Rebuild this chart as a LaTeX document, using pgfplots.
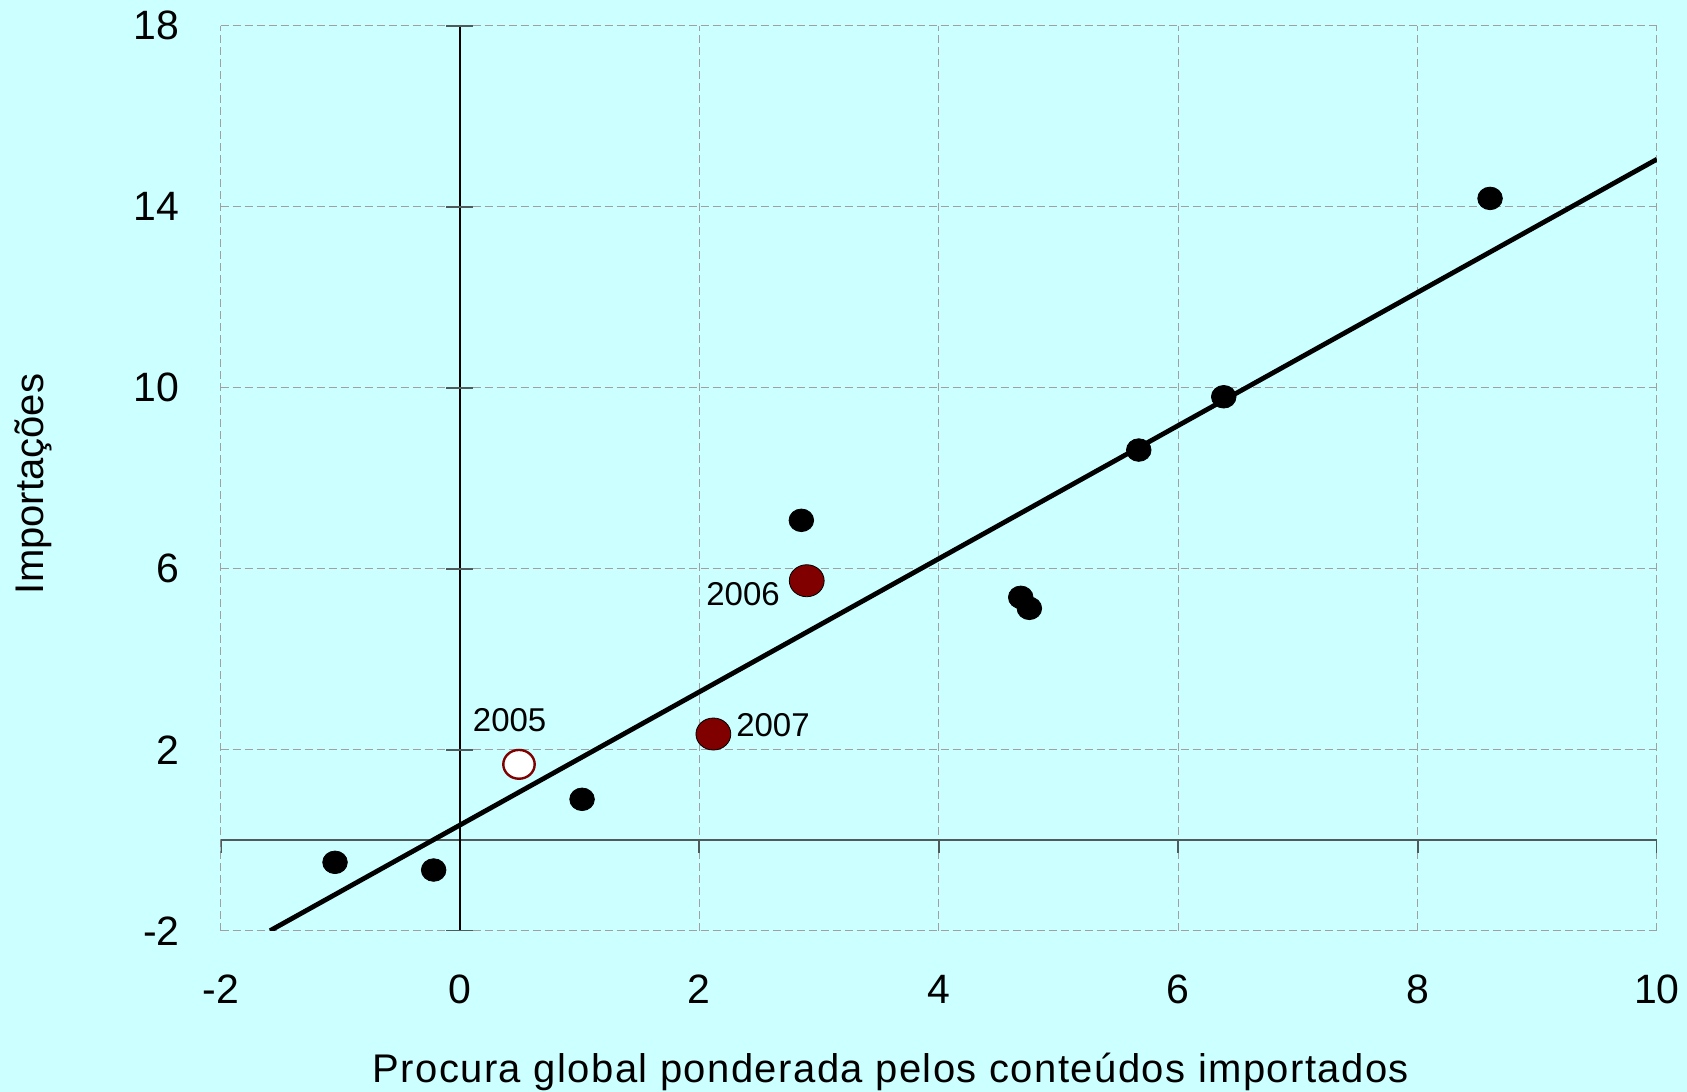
\documentclass[border=0pt]{standalone}
\usepackage{fontspec}
\setmainfont{Liberation Sans}
\newfontfamily\xlabfont{Liberation Sans}[LetterSpace=3.6]
\usepackage{pgfplots}
\pgfplotsset{compat=1.18}
\definecolor{bgc}{RGB}{204,255,255}
\definecolor{dred}{RGB}{128,0,0}
\definecolor{gridc}{RGB}{160,160,160}
\definecolor{axc}{RGB}{80,90,90}

\begin{document}
\begin{tikzpicture}
\path[use as bounding box, fill=bgc] (0,0) rectangle (843.5bp,546bp);
\begin{axis}[
  at={(110.3bp,80.65bp)}, anchor=south west,
  scale only axis, width=718.15bp, height=452.45bp,
  xmin=-2, xmax=10, ymin=-2, ymax=18,
  xtick={-2,0,2,4,6,8,10}, ytick={-2,2,6,10,14,18},
  xticklabels={-2,0,2,4,6,8,10}, yticklabels={-2,2,6,10,14,18},
  axis line style={draw=none},
  major tick length=0pt,
  grid=major,
  major grid style={gridc, line width=0.5bp, dash pattern=on 4bp off 2bp},
  tick label style={font=\fontsize{20.5bp}{24bp}\selectfont, inner sep=0pt},
  xticklabel style={anchor=north, yshift=-22bp},
  yticklabel style={anchor=east, xshift=-20.3bp},
  xlabel={Procura global ponderada pelos conteúdos importados},
  ylabel={Importações},
  label style={font=\fontsize{20bp}{24bp}\selectfont},
  xlabel style={at={(axis description cs:0.4666,-0.1672)}, anchor=base, font=\xlabfont\fontsize{20bp}{24bp}\selectfont},
  ylabel style={at={(axis description cs:-0.1234,0.4937)}, anchor=base},
]
% axis lines through the origin
\draw[axc, line width=1bp] (axis cs:-2,0) -- (axis cs:10,0);
\draw[axc, line width=1bp] (axis cs:-2,0) -- ([yshift=-6.5bp]axis cs:-2,0);
\draw[axc, line width=1bp] (axis cs:2,0) -- ([yshift=-6.5bp]axis cs:2,0);
\draw[axc, line width=1bp] (axis cs:4,0) -- ([yshift=-6.5bp]axis cs:4,0);
\draw[axc, line width=1bp] (axis cs:6,0) -- ([yshift=-6.5bp]axis cs:6,0);
\draw[axc, line width=1bp] (axis cs:8,0) -- ([yshift=-6.5bp]axis cs:8,0);
\draw[axc, line width=1bp] (axis cs:10,0) -- ([yshift=-6.5bp]axis cs:10,0);
\draw[black, line width=0.6bp] (axis cs:0,-2) -- (axis cs:0,18);
\draw[axc, line width=1bp] ([xshift=-6.75bp]axis cs:0,-2) -- ([xshift=6.75bp]axis cs:0,-2);
\draw[axc, line width=1bp] ([xshift=-6.75bp]axis cs:0,2) -- ([xshift=6.75bp]axis cs:0,2);
\draw[axc, line width=1bp] ([xshift=-6.75bp]axis cs:0,6) -- ([xshift=6.75bp]axis cs:0,6);
\draw[axc, line width=1bp] ([xshift=-6.75bp]axis cs:0,10) -- ([xshift=6.75bp]axis cs:0,10);
\draw[axc, line width=1bp] ([xshift=-6.75bp]axis cs:0,14) -- ([xshift=6.75bp]axis cs:0,14);
\draw[axc, line width=1bp] ([xshift=-6.75bp]axis cs:0,18) -- ([xshift=6.75bp]axis cs:0,18);

% regression line
\addplot[black, line width=2.4bp, no marks] coordinates {(-1.587,-2) (10,15.05)};

% other years
\addplot[only marks, mark=*, mark size=5.65bp, mark options={fill=black, draw=none, xscale=1.09}] coordinates {
(-1.044,-0.489) (-0.220,-0.659) (1.020,0.904) (2.852,7.07) (4.685,5.368) (4.757,5.125) (5.671,8.623) (6.381,9.801) (8.606,14.185)};

% 2006, 2007
\addplot[only marks, mark=*, mark size=8bp, mark options={fill=dred, draw=none, xscale=1.09}] coordinates {(2.897,5.735) (2.117,2.347)};

% 2005
\addplot[only marks, mark=*, mark size=7.2bp, mark options={fill=white, draw=dred, line width=1.2bp, xscale=1.09}] coordinates {(0.493,1.677)};

\node[font=\fontsize{16.5bp}{19bp}\selectfont, inner sep=0pt] at (axis cs:0.415,2.645) {2005};
\node[font=\fontsize{16.5bp}{19bp}\selectfont, inner sep=0pt] at (axis cs:2.365,5.445) {2006};
\node[font=\fontsize{16.5bp}{19bp}\selectfont, inner sep=0pt] at (axis cs:2.615,2.553) {2007};
\end{axis}
\end{tikzpicture}
\end{document}
